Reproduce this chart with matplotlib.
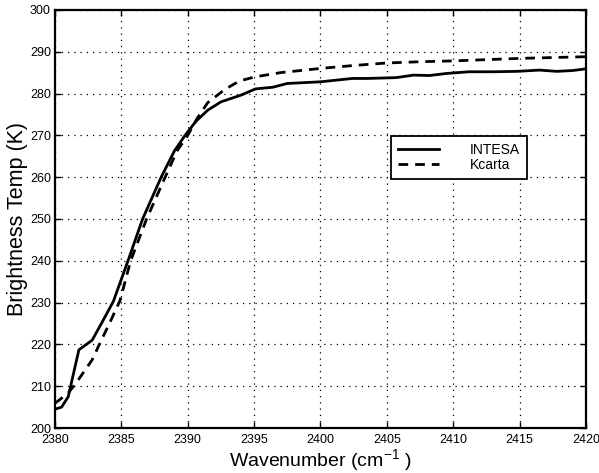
import numpy as np
import matplotlib.pyplot as plt

plt.rcParams['font.family'] = ['Liberation Sans', 'DejaVu Sans']
plt.rcParams['mathtext.fontset'] = 'custom'
plt.rcParams['mathtext.rm'] = 'Liberation Sans'
plt.rcParams['mathtext.it'] = 'Liberation Sans'

# INTESA (solid)
wn_intesa = [2380, 2380.5, 2381, 2381.8, 2382.8, 2383.6, 2384.4, 2385.5, 2386.6, 2388,
             2389, 2389.8, 2390.6, 2391.5, 2392.5, 2394, 2395.1, 2396.4, 2397.5,
             2400, 2402.4, 2403.5, 2405.7, 2407, 2408.2, 2409.5, 2411.2, 2413,
             2414.8, 2416.5, 2417.8, 2419, 2420]
bt_intesa = [204.5, 205, 207.5, 218.7, 221, 225.6, 230.3, 240, 250, 260,
             266.3, 270, 273.3, 276, 278, 279.6, 281.1, 281.5, 282.4,
             282.8, 283.6, 283.6, 283.8, 284.4, 284.3, 284.8, 285.2, 285.2,
             285.3, 285.6, 285.3, 285.5, 285.9]

# Kcarta (dashed)
wn_kcarta = [2380, 2381, 2381.6, 2382.8, 2383.4, 2384.1, 2384.9, 2385.7, 2386.9, 2388.3,
             2389.2, 2390, 2390.7, 2391.5, 2392.8, 2393.9, 2395.1, 2397,
             2400, 2402.5, 2405, 2407.5, 2410, 2412.5, 2415, 2417.5, 2420]
bt_kcarta = [205.9, 208.4, 210.8, 216.3, 220.4, 225, 230.5, 240, 250, 260,
             266.3, 270, 274, 277.8, 281, 283, 284, 285,
             286, 286.7, 287.3, 287.6, 287.8, 288.1, 288.4, 288.6, 288.8]

fig = plt.figure(figsize=(5.99, 4.73), dpi=100)
ax = fig.add_axes([0.0918, 0.0951, 0.8865, 0.884])

ax.plot(wn_intesa, bt_intesa, color='black', lw=2, label='INTESA')
ax.plot(wn_kcarta, bt_kcarta, color='black', lw=2, ls=(0, (3.5, 2.5)), label='Kcarta')

ax.set_xlim(2380, 2420)
ax.set_ylim(200, 300)
ax.set_xticks(np.arange(2380, 2421, 5))
ax.set_yticks(np.arange(200, 301, 10))
ax.grid(True, color='black', ls=(0, (1, 4)), lw=0.9)
ax.tick_params(direction='in', labelsize=9, length=4, width=1, top=True, right=True)
ax.tick_params(axis='x', pad=4)
ax.tick_params(axis='y', pad=3)
for s in ax.spines.values():
    s.set_linewidth(1.6)

ax.set_xlabel('Wavenumber (cm$^{-1}$ )', fontsize=14)
ax.set_ylabel('Brightness Temp (K)', fontsize=15.5)
ax.xaxis.set_label_coords(0.5, -0.077)
ax.xaxis.label.set_verticalalignment('center')
ax.yaxis.set_label_coords(-0.07, 0.5)
ax.yaxis.label.set_verticalalignment('center')

leg = ax.legend(loc='upper right', bbox_to_anchor=(0.889, 0.699), fontsize=10,
                fancybox=False, framealpha=1, edgecolor='black', handlelength=3,
                borderpad=0.5, labelspacing=0.1, handletextpad=2.2, borderaxespad=0)
leg.get_frame().set_linewidth(1.3)

fig.savefig('out.png', dpi=100)
